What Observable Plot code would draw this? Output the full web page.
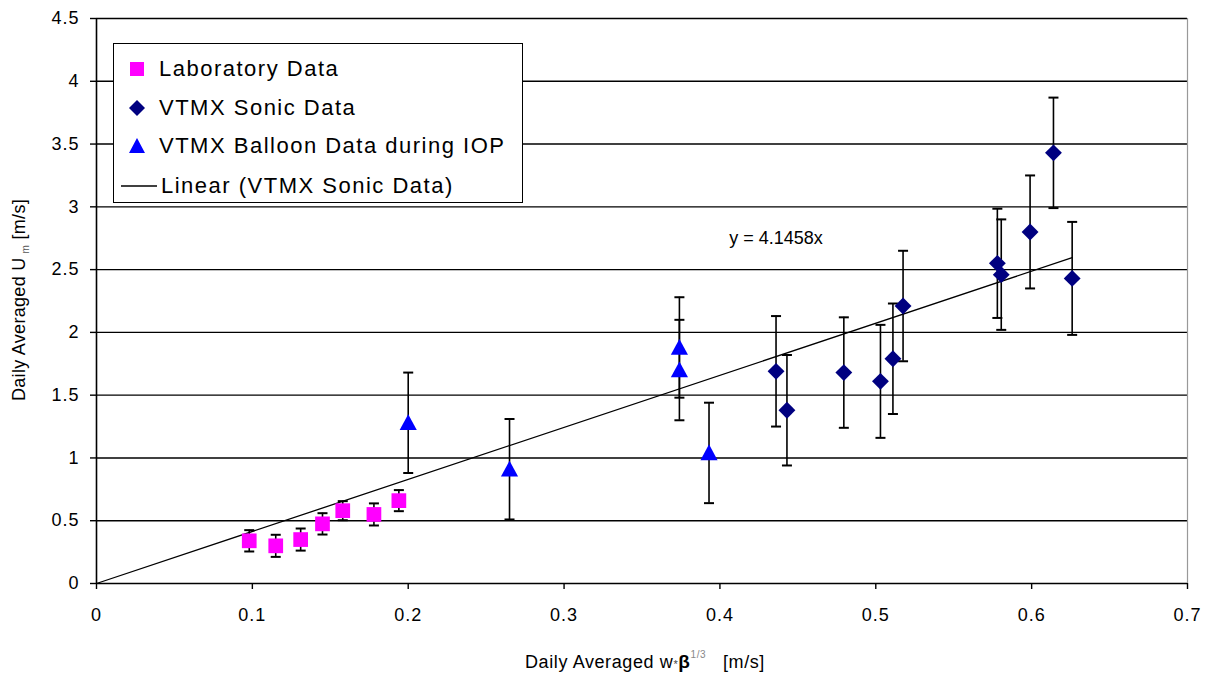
<!DOCTYPE html>
<html>
<head>
<meta charset="utf-8">
<script src="https://cdn.jsdelivr.net/npm/d3@7"></script>
<script src="https://cdn.jsdelivr.net/npm/@observablehq/plot@0.6"></script>
<style>
  html, body { margin: 0; padding: 0; background: #fff; }
  #wrap { position: relative; width: 1206px; height: 678px; font-family: "Liberation Sans", Arial, sans-serif; }
  #legend { position: absolute; left: 113px; top: 43px; width: 408px; height: 158px; border: 1.5px solid #000; background: #fff; font-size: 22px; color: #000; }
  .row { position: absolute; left: 0; height: 30px; display: flex; align-items: center; }
  .row svg { width: 44px; height: 30px; flex: none; }
  .row span { margin-left: 0px; letter-spacing: 1.5px; white-space: nowrap; }
</style>
</head>
<body>
<div id="wrap"></div>
<script>
// ---- data ----
const xTicks = [0, 0.1, 0.2, 0.3, 0.4, 0.5, 0.6, 0.7];
const yTicks = [0, 0.5, 1, 1.5, 2, 2.5, 3, 3.5, 4, 4.5];

const labX   = [0.098, 0.115, 0.131, 0.145, 0.158, 0.178, 0.194];
const labY   = [0.34, 0.30, 0.35, 0.475, 0.58, 0.55, 0.66];
const labErr = [0.085, 0.088, 0.088, 0.085, 0.076, 0.088, 0.084];

const sonicX   = [0.436, 0.443, 0.4795, 0.503, 0.511, 0.5175, 0.578, 0.5805, 0.599, 0.614, 0.626];
const sonicY   = [1.69, 1.38, 1.68, 1.61, 1.79, 2.21, 2.55, 2.46, 2.80, 3.43, 2.43];
const sonicErr = [0.44, 0.44, 0.44, 0.45, 0.44, 0.44, 0.435, 0.44, 0.45, 0.44, 0.45];

const balloonX   = [0.200, 0.265, 0.374, 0.374, 0.393];
const balloonY   = [1.28, 0.91, 1.88, 1.70, 1.04];
const balloonErr = [0.40, 0.40, 0.40, 0.40, 0.40];

const trendSlope = 4.1458;
const trendX = [0, 0.626];
const trendLabel = "y = 4.1458x";
const trendLabelX = 0.436, trendLabelY = 2.75;

const legendLabels = ["Laboratory Data", "VTMX Sonic Data", "VTMX Balloon Data during IOP", "Linear (VTMX Sonic Data)"];
const colors = {lab: "#FF00FF", sonic: "#000080", balloon: "#0000FF"};

// ---- tables ----
const mk = (xs, ys, es) => xs.map((x, i) => ({x, y: ys[i], e: es[i]}));
const lab = mk(labX, labY, labErr);
const sonic = mk(sonicX, sonicY, sonicErr);
const balloon = mk(balloonX, balloonY, balloonErr);
const all = [...lab, ...sonic, ...balloon];
const caps = all.flatMap(d => [{x: d.x, y: d.y - d.e}, {x: d.x, y: d.y + d.e}]);
const trend = trendX.map(x => ({x, y: trendSlope * x}));

const capSymbol = { draw(ctx, size) { const w = 5; ctx.moveTo(-w, 0); ctx.lineTo(w, 0); } };
const triSymbol = { draw(ctx, size) { const s = Math.sqrt(size / Math.PI); ctx.moveTo(0, -1.3 * s); ctx.lineTo(1.3 * s, 1.1 * s); ctx.lineTo(-1.3 * s, 1.1 * s); ctx.closePath(); } };
const fmt = d => String(d);

const chart = Plot.plot({
  width: 1206, height: 678,
  marginLeft: 96, marginRight: 19, marginTop: 18, marginBottom: 95,
  style: {fontFamily: "'Liberation Sans', Arial, sans-serif", fontSize: "18px", color: "#000", background: "#fff", overflow: "visible"},
  x: {domain: [0, 0.7]},
  y: {domain: [0, 4.5]},
  marks: [
    Plot.ruleY(yTicks, {stroke: "#000", strokeWidth: 1.4}),
    Plot.ruleX([0.7], {stroke: "#999", strokeWidth: 1.2}),
    Plot.ruleX([0], {stroke: "#000", strokeWidth: 1.6}),
    Plot.axisY({ticks: yTicks, tickFormat: fmt, tickSize: 6, tickPadding: 11, label: null, fontSize: 18, strokeWidth: 1.4}),
    Plot.axisX({ticks: xTicks, tickFormat: fmt, tickSize: 6, tickPadding: 19, label: null, fontSize: 18, strokeWidth: 1.4}),
    Plot.line(trend, {x: "x", y: "y", stroke: "#000", strokeWidth: 1.3}),
    Plot.ruleX(all, {x: "x", y1: d => d.y - d.e, y2: d => d.y + d.e, stroke: "#000", strokeWidth: 1.6}),
    Plot.dot(caps, {x: "x", y: "y", symbol: capSymbol, r: 4, stroke: "#000", strokeWidth: 2, fill: "none"}),
    Plot.dot(lab, {x: "x", y: "y", symbol: "square", r: 8.3, fill: colors.lab, stroke: "none"}),
    Plot.dot(sonic, {x: "x", y: "y", symbol: "diamond2", r: 7.6, fill: colors.sonic, stroke: "none"}),
    Plot.dot(balloon, {x: "x", y: "y", symbol: triSymbol, r: 6.6, fill: colors.balloon, stroke: "none"}),
    Plot.text([{x: trendLabelX, y: trendLabelY, t: trendLabel}], {x: "x", y: "y", text: "t", fontSize: 18, fill: "#000", textAnchor: "middle"})
  ]
});

const wrap = document.getElementById("wrap");
wrap.appendChild(chart);
d3.select(chart).selectAll("g[aria-label='y-axis tick label'] text, g[aria-label='x-axis tick label'] text").attr("letter-spacing", "1px");

// axis titles with sub/superscripts
const svg = d3.select(chart);
const yt = svg.append("text")
  .attr("transform", "translate(25,300) rotate(-90)")
  .attr("text-anchor", "middle")
  .attr("font-size", 18)
  .attr("letter-spacing", "0.3px")
  .attr("fill", "#000");
yt.append("tspan").text("Daily Averaged U");
yt.append("tspan").attr("font-size", 10).attr("dy", 4).attr("dx", 4).attr("fill", "#555").text("m");
yt.append("tspan").attr("dy", -4).text(" [m/s]");

const xt = svg.append("text")
  .attr("x", 645).attr("y", 668)
  .attr("text-anchor", "middle")
  .attr("font-size", 18)
  .attr("letter-spacing", "0.6px")
  .attr("fill", "#000");
xt.append("tspan").text("Daily Averaged w");
xt.append("tspan").attr("font-size", 11).attr("fill", "#444").text("*");
xt.append("tspan").attr("font-weight", "bold").attr("font-size", 19).text("β");
xt.append("tspan").attr("font-size", 10).attr("dy", -10).attr("fill", "#888").text("1/3");
xt.append("tspan").attr("dy", 10).text("   [m/s]");

// legend
const legend = document.createElement("div");
legend.id = "legend";
const icons = [
  `<svg viewBox="-22 -15 44 30"><rect x="-7" y="-7" width="14" height="14" fill="${colors.lab}"/></svg>`,
  `<svg viewBox="-22 -15 44 30"><path d="M0,-8L8,0L0,8L-8,0Z" fill="${colors.sonic}"/></svg>`,
  `<svg viewBox="-22 -15 44 30"><path d="M0,-8L8,7L-8,7Z" fill="${colors.balloon}"/></svg>`,
  `<svg viewBox="-22 -15 44 30"><line x1="-18" x2="18" y1="0" y2="0" stroke="#000" stroke-width="1.5"/></svg>`
];
const rowTops = [10, 49, 87, 127];
legendLabels.forEach((t, i) => {
  const r = document.createElement("div");
  r.className = "row";
  r.style.top = rowTops[i] + "px";
  r.style.left = i === 3 ? "3px" : "1px";
  r.innerHTML = icons[i] + `<span>${t}</span>`;
  legend.appendChild(r);
});
wrap.appendChild(legend);
</script>
</body>
</html>
